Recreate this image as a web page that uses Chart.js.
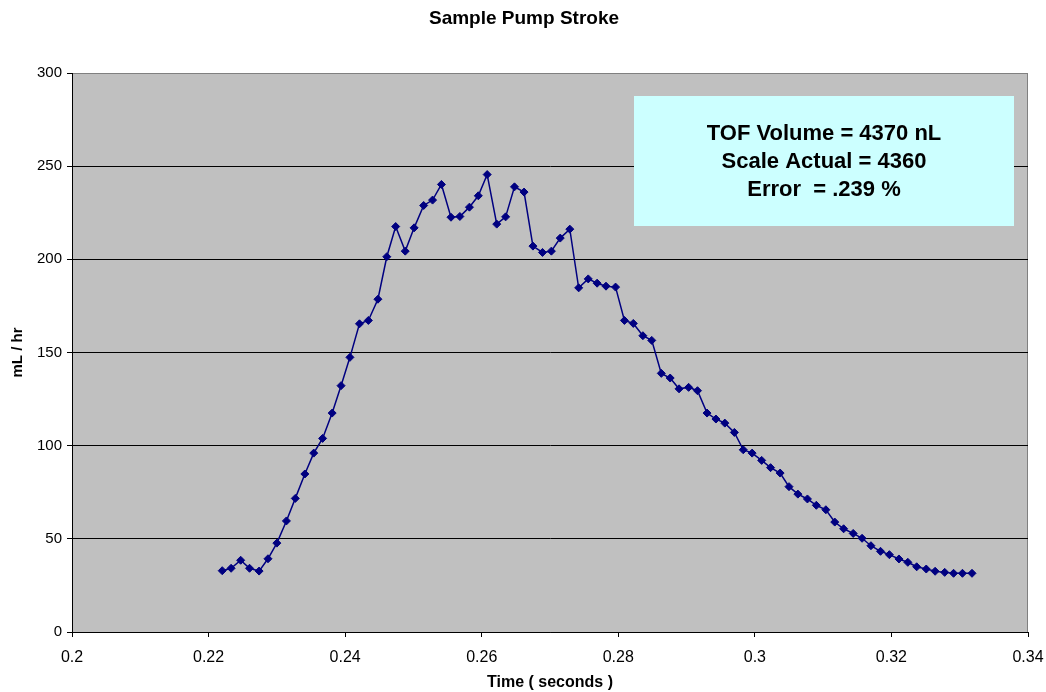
<!DOCTYPE html>
<html lang="en">
<head>
    <meta charset="UTF-8">
    <title>Sample Pump Stroke</title>
    <script src="https://cdn.jsdelivr.net/npm/chart.js"></script>
    <style>
        body { margin: 0; background: #ffffff; }
        #pumpChart { display: block; }
    </style>
</head>
<body>
    <canvas id="pumpChart" width="1046" height="692"></canvas>
    <script>
        // Data
        const times = [
            0.2220, 0.2233, 0.2247, 0.2260, 0.2274, 0.2287, 0.2300, 0.2314, 0.2327, 0.2341,
            0.2354, 0.2367, 0.2381, 0.2394, 0.2407, 0.2421, 0.2434, 0.2448, 0.2461, 0.2474,
            0.2488, 0.2501, 0.2515, 0.2528, 0.2541, 0.2555, 0.2568, 0.2582, 0.2595, 0.2608,
            0.2622, 0.2635, 0.2648, 0.2662, 0.2675, 0.2689, 0.2702, 0.2715, 0.2729, 0.2742,
            0.2756, 0.2769, 0.2782, 0.2796, 0.2809, 0.2822, 0.2836, 0.2849, 0.2863, 0.2876,
            0.2889, 0.2903, 0.2916, 0.2930, 0.2943, 0.2956, 0.2970, 0.2983, 0.2996, 0.3010,
            0.3023, 0.3037, 0.3050, 0.3063, 0.3077, 0.3090, 0.3104, 0.3117, 0.3130, 0.3144,
            0.3157, 0.3170, 0.3184, 0.3197, 0.3211, 0.3224, 0.3237, 0.3251, 0.3264, 0.3278,
            0.3291, 0.3304, 0.3318
        ];
        const flow = [
            32.9, 34.2, 38.5, 34.2, 32.7, 39.3, 47.7, 59.6, 71.7, 84.8,
            96.0, 103.9, 117.5, 132.2, 147.4, 165.4, 167.2, 178.6, 201.4, 217.6,
            204.4, 216.9, 228.9, 231.8, 240.2, 222.6, 223.0, 228.0, 234.1, 245.5,
            218.9, 222.8, 238.9, 236.1, 207.1, 203.7, 204.4, 211.4, 216.2, 184.7,
            189.5, 187.2, 185.6, 185.1, 167.2, 165.6, 159.0, 156.5, 138.8, 136.3,
            130.5, 131.3, 129.5, 117.5, 114.3, 112.1, 107.1, 97.8, 96.0, 92.1,
            88.2, 85.3, 78.0, 74.0, 71.4, 68.0, 65.6, 59.0, 55.4, 52.9,
            50.3, 46.3, 43.3, 41.5, 39.2, 37.4, 35.0, 33.8, 32.6, 32.0,
            31.5, 31.5, 31.5
        ];
        const xTicks = [0.2, 0.22, 0.24, 0.26, 0.28, 0.3, 0.32, 0.34];
        const yTicks = [0, 50, 100, 150, 200, 250, 300];
        const chartTitle = 'Sample Pump Stroke';
        const xTitle = 'Time ( seconds )';
        const yTitle = 'mL / hr';
        const noteLines = ['TOF Volume = 4370 nL', 'Scale Actual = 4360', 'Error  = .239 %'];

        const FONT = '"Liberation Sans", Arial, sans-serif';

        // grey plot area, title and the text box
        const decorations = {
            id: 'decorations',
            beforeDraw(chart) {
                const { ctx, chartArea: a } = chart;
                ctx.save();
                ctx.fillStyle = '#c0c0c0';
                ctx.fillRect(a.left, a.top, a.right - a.left, a.bottom - a.top);
                ctx.strokeStyle = '#808080';
                ctx.lineWidth = 1;
                ctx.beginPath();
                ctx.moveTo(a.left, a.top + 0.5);
                ctx.lineTo(a.right - 0.5, a.top + 0.5);
                ctx.lineTo(a.right - 0.5, a.bottom);
                ctx.stroke();
                ctx.restore();
            },
            afterDraw(chart) {
                const { ctx, chartArea: a } = chart;
                ctx.save();
                ctx.fillStyle = '#000';
                ctx.textAlign = 'center';
                ctx.textBaseline = 'middle';
                ctx.font = 'bold 19px ' + FONT;
                ctx.fillText(chartTitle, 524, 19);

                const bx = a.right - 394, by = a.top + 23, bw = 380, bh = 130;
                ctx.fillStyle = '#ccffff';
                ctx.fillRect(bx, by, bw, bh);
                ctx.fillStyle = '#000';
                ctx.font = 'bold 22px ' + FONT;
                noteLines.forEach((t, i) => {
                    ctx.fillText(t, bx + bw / 2, by + 38 + i * 28);
                });
                ctx.restore();
            }
        };

        const ctx = document.getElementById('pumpChart').getContext('2d');
        new Chart(ctx, {
            type: 'line',
            data: {
                datasets: [{
                    data: times.map((t, i) => ({ x: t, y: flow[i] })),
                    borderColor: '#000080',
                    backgroundColor: '#000080',
                    borderWidth: 1.5,
                    pointStyle: 'rectRot',
                    pointRadius: 4,
                    pointBorderWidth: 1,
                    tension: 0
                }]
            },
            options: {
                responsive: false,
                animation: false,
                layout: { padding: { left: 0, right: 18, top: 73, bottom: 0 } },
                plugins: {
                    legend: { display: false },
                    tooltip: { enabled: false },
                    title: { display: false }
                },
                scales: {
                    x: {
                        type: 'linear',
                        min: 0.2,
                        max: 0.34,
                        afterFit: s => { s.height = 60; s.paddingLeft = 0; s.paddingRight = 0; },
                        afterBuildTicks: s => { s.ticks = xTicks.map(v => ({ value: v })); },
                        grid: { drawOnChartArea: false, tickLength: 5, color: '#000' },
                        border: { color: '#000', width: 1 },
                        ticks: {
                            padding: 11,
                            color: '#000',
                            font: { family: FONT, size: 16 },
                            callback: v => String(+v.toFixed(2))
                        },
                        title: {
                            display: true,
                            text: xTitle,
                            color: '#000',
                            font: { family: FONT, size: 16, weight: 'bold' },
                            padding: { top: 0, bottom: 0 }
                        }
                    },
                    y: {
                        min: 0,
                        max: 300,
                        afterFit: s => { s.width = 72; s.paddingTop = 0; s.paddingBottom = 0; },
                        afterBuildTicks: s => { s.ticks = yTicks.map(v => ({ value: v })); },
                        grid: {
                            tickLength: 5,
                            color: c => (c.tick && c.tick.value === 300 ? '#808080' : '#000'),
                            tickColor: '#000'
                        },
                        border: { color: '#000', width: 1 },
                        ticks: {
                            padding: 5,
                            color: '#000',
                            font: { family: FONT, size: 15 }
                        },
                        title: {
                            display: true,
                            text: yTitle,
                            color: '#000',
                            font: { family: FONT, size: 15, weight: 'bold' },
                            padding: { top: 9, bottom: 0 }
                        }
                    }
                }
            },
            plugins: [decorations]
        });
    </script>
</body>
</html>
